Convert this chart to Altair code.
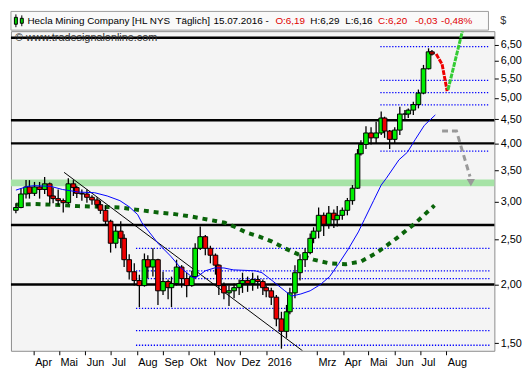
import altair as alt
import pandas as pd

W, H = 490, 324

# ---- price data (4-business-day candles) ----
opens = [2.88, 2.92, 3.12, 3.23, 3.13, 3.23, 3.19, 3.28, 3.09, 3.05,
         3.02, 2.99, 3.28, 3.22, 3.13, 3.12, 3.07, 3.03, 2.96, 2.88,
         2.73, 2.45, 2.60, 2.51, 2.26, 2.13, 2.04, 1.99, 2.26, 2.18,
         2.26, 1.94, 2.03, 1.97, 2.01, 2.18, 2.06, 1.99, 2.08, 2.39,
         2.53, 2.39, 2.31, 2.20, 1.99, 1.92, 1.94, 1.97, 2.01, 2.04,
         2.01, 2.05, 2.03, 1.97, 1.94, 1.88, 1.69, 1.59, 1.75, 1.92,
         2.12, 2.26, 2.34, 2.51, 2.60, 2.81, 2.69, 2.84, 2.75, 2.81,
         2.88, 3.02, 3.21, 3.80, 3.98, 4.21, 4.11, 4.21, 4.53, 4.25,
         4.08, 4.27, 4.62, 4.62, 4.71, 4.84, 5.12, 5.77, 6.27]
highs = [2.98, 3.21, 3.34, 3.34, 3.31, 3.31, 3.39, 3.30, 3.22, 3.19,
         3.05, 3.37, 3.34, 3.25, 3.19, 3.19, 3.10, 3.07, 3.02, 2.95,
         2.75, 2.68, 2.73, 2.56, 2.32, 2.22, 2.10, 2.33, 2.31, 2.39,
         2.27, 2.13, 2.05, 2.08, 2.26, 2.20, 2.12, 2.14, 2.45, 2.66,
         2.55, 2.42, 2.33, 2.21, 2.02, 1.99, 2.01, 2.05, 2.12, 2.08,
         2.12, 2.09, 2.05, 1.99, 1.97, 1.90, 1.75, 1.81, 1.97, 2.20,
         2.32, 2.39, 2.57, 2.65, 2.92, 2.85, 2.94, 2.89, 2.94, 2.92,
         3.06, 3.26, 3.89, 4.06, 4.35, 4.33, 4.45, 4.68, 4.56, 4.27,
         4.33, 4.79, 4.71, 4.75, 4.91, 5.21, 5.88, 6.38, 6.33]
lows = [2.84, 2.91, 3.05, 3.05, 3.09, 3.05, 3.12, 2.98, 2.98, 2.95,
        2.85, 2.97, 3.09, 3.06, 3.02, 2.99, 2.96, 2.91, 2.83, 2.68,
        2.34, 2.39, 2.39, 2.18, 2.05, 1.99, 1.79, 1.98, 2.06, 2.08,
        1.81, 1.90, 1.86, 1.79, 1.99, 1.97, 1.88, 1.98, 2.06, 2.37,
        2.31, 2.22, 2.10, 1.90, 1.86, 1.80, 1.87, 1.90, 1.92, 1.93,
        1.94, 1.96, 1.90, 1.88, 1.81, 1.63, 1.46, 1.54, 1.73, 1.87,
        2.04, 2.18, 2.32, 2.45, 2.51, 2.54, 2.63, 2.64, 2.66, 2.75,
        2.81, 2.96, 3.20, 3.77, 3.89, 3.98, 4.00, 4.17, 4.11, 3.89,
        4.00, 4.17, 4.49, 4.53, 4.60, 4.75, 5.09, 5.75, 6.16]
closes = [2.92, 3.12, 3.23, 3.13, 3.23, 3.19, 3.28, 3.09, 3.05, 3.02,
          2.99, 3.28, 3.22, 3.13, 3.12, 3.07, 3.03, 2.96, 2.88, 2.73,
          2.45, 2.60, 2.51, 2.26, 2.13, 2.04, 1.99, 2.26, 2.18, 2.26,
          1.94, 2.03, 1.97, 2.01, 2.18, 2.06, 1.99, 2.08, 2.39, 2.53,
          2.39, 2.31, 2.20, 1.99, 1.92, 1.94, 1.97, 2.01, 2.04, 2.01,
          2.05, 2.03, 1.97, 1.94, 1.88, 1.69, 1.59, 1.75, 1.92, 2.12,
          2.26, 2.34, 2.51, 2.60, 2.81, 2.69, 2.84, 2.75, 2.81, 2.88,
          3.02, 3.21, 3.80, 3.98, 4.21, 4.11, 4.21, 4.53, 4.25, 4.08,
          4.27, 4.62, 4.62, 4.71, 4.84, 5.12, 5.77, 6.27, 6.20]
candle_dates = pd.date_range(end="2016-07-15", periods=len(closes), freq="4B")

# ---- indicators ----
ma_blue_dates = ["2015-03-11", "2015-03-25", "2015-04-02", "2015-04-21", "2015-05-05",
                 "2015-05-24", "2015-06-12", "2015-06-27", "2015-07-12", "2015-07-23",
                 "2015-08-02", "2015-08-07", "2015-08-26", "2015-09-10", "2015-09-21",
                 "2015-10-06", "2015-10-10", "2015-10-21", "2015-11-01", "2015-11-12",
                 "2015-11-23", "2015-12-19", "2015-12-27", "2016-01-08", "2016-01-23",
                 "2016-01-31", "2016-02-11", "2016-02-22", "2016-03-05", "2016-03-16",
                 "2016-03-27", "2016-04-07", "2016-04-19", "2016-04-26", "2016-05-07",
                 "2016-05-16", "2016-05-22", "2016-06-06", "2016-06-16", "2016-06-25",
                 "2016-07-06", "2016-07-19"]
ma_blue_vals = [3.18, 3.24, 3.25, 3.24, 3.19, 3.15, 3.14, 3.09, 3.02, 2.93,
                2.82, 2.71, 2.45, 2.30, 2.18, 2.07, 2.07, 2.14, 2.17, 2.17,
                2.15, 2.14, 2.12, 2.04, 1.94, 1.89, 1.91, 1.94, 2.00, 2.08,
                2.22, 2.38, 2.59, 2.75, 3.02, 3.26, 3.37, 3.69, 3.83, 4.07,
                4.37, 4.60]
ma_green_dates = ["2015-03-11", "2015-04-02", "2015-04-24", "2015-05-24", "2015-06-19",
                  "2015-07-12", "2015-07-31", "2015-08-26", "2015-09-13", "2015-10-06",
                  "2015-10-25", "2015-11-13", "2015-11-28", "2015-12-09", "2015-12-24",
                  "2016-01-08", "2016-01-23", "2016-02-08", "2016-02-26", "2016-03-16",
                  "2016-04-04", "2016-04-22", "2016-05-11", "2016-06-03", "2016-06-25",
                  "2016-07-18"]
ma_green_vals = [2.96, 2.97, 2.96, 2.94, 2.93, 2.92, 2.89, 2.85, 2.83, 2.79,
                 2.75, 2.71, 2.64, 2.58, 2.53, 2.47, 2.39, 2.32, 2.26, 2.22,
                 2.21, 2.24, 2.34, 2.51, 2.70, 2.95]

black_levels = [6.72, 4.48, 4.00, 2.68, 2.00]
band_low = [3.24]
band_high = [3.35]
dotted_a_start = "2015-07-31"
dotted_a_levels = [2.39, 2.14, 2.06, 1.78, 1.595, 1.485]
dotted_b_start = "2016-05-15"
dotted_b_levels = [6.43, 5.45, 5.13, 4.83, 3.85]
dotted_end = "2016-09-21"

trend_dates = ["2015-05-07", "2016-02-13"]
trend_vals = [3.47, 1.445]

red_dates = ["2016-07-20", "2016-07-27", "2016-08-02"]
red_vals = [6.20, 5.90, 5.17]
green_dates = ["2016-08-03", "2016-08-20"]
green_vals = [5.20, 6.94]
gray_dates = ["2016-07-27", "2016-08-13", "2016-08-21", "2016-08-29"]
gray_vals = [4.25, 4.25, 3.80, 3.40]
arrow_date = ["2016-08-30"]
arrow_val = [3.30]

y_ticks = [1.5, 2.0, 2.5, 3.0, 3.5, 4.0, 4.5, 5.0, 5.5, 6.0, 6.5]
month_ticks = [(2015, m) for m in range(4, 13)] + [(2016, 1)] + [(2016, m) for m in range(3, 9)]

FONT = "Liberation Sans"

xscale = alt.Scale(domain=[alt.DateTime(year=2015, month=3, date=11),
                           alt.DateTime(year=2016, month=9, date=21)])
yscale = alt.Scale(type="log", domain=[1.445, 6.94], nice=False, zero=False)

xaxis = alt.Axis(values=[alt.DateTime(year=y, month=m, date=1) for y, m in month_ticks],
                 labelExpr="month(datum.value)==0 ? '' + year(datum.value) : "
                           "['Jan','Feb','Mrz','Apr','Mai','Jun','Jul','Aug','Sep','Okt','Nov','Dez'][month(datum.value)]",
                 labelAlign="left", labelOffset=1, labelPadding=2, tickSize=4,
                 tickColor="black", domain=False, grid=False, title=None,
                 labelFont=FONT, labelFontSize=11, labelColor="black",
                 labelOverlap=False, labelBound=False, labelFlush=False)
yaxis = alt.Axis(orient="right", values=y_ticks,
                 labelExpr="replace(format(datum.value, '.2f'), '.', ',')",
                 tickSize=4, tickColor="black", domain=False, grid=False, title=None,
                 labelFont=FONT, labelFontSize=11, labelColor="black", labelPadding=2)


def X(field, axis=True):
    return alt.X(field, type="temporal", scale=xscale, axis=xaxis if axis else None)


def Y(field, axis=True):
    return alt.Y(field, type="quantitative", scale=yscale, axis=yaxis if axis else None)


candles = pd.DataFrame({"date": candle_dates, "open": opens, "high": highs,
                        "low": lows, "close": closes})
candles["dir"] = ["up" if c >= o else "down" for o, c in zip(opens, closes)]

one = alt.Data(values=[{"k": 1}])

band = alt.Chart(pd.DataFrame({"lo": band_low, "hi": band_high})).mark_rect(
    color="#a6e3a6").encode(x=alt.value(0), x2=alt.value(W), y=Y("lo"), y2="hi")

dotted_df = pd.DataFrame({
    "start": [dotted_a_start] * len(dotted_a_levels) + [dotted_b_start] * len(dotted_b_levels),
    "end": [dotted_end] * (len(dotted_a_levels) + len(dotted_b_levels)),
    "level": dotted_a_levels + dotted_b_levels})
dotted = alt.Chart(dotted_df).mark_rule(color="#0000ff", strokeWidth=1.3,
                                        strokeDash=[1.3, 1.7]).encode(
    x=X("start"), x2="end", y=Y("level"))

levels = alt.Chart(pd.DataFrame({"level": black_levels})).mark_rule(
    color="black", strokeWidth=2.5).encode(y=Y("level"))

green_ma = alt.Chart(pd.DataFrame({"date": ma_green_dates, "v": ma_green_vals})).mark_line(
    color="#0a640a", strokeWidth=4, strokeDash=[5, 5]).encode(x=X("date"), y=Y("v"))

trend = alt.Chart(pd.DataFrame({"date": trend_dates, "v": trend_vals})).mark_line(
    color="black", strokeWidth=1, clip=True).encode(x=X("date"), y=Y("v"))

wicks = alt.Chart(candles).mark_rule(color="black", strokeWidth=1.3).encode(
    x=X("date"), y=Y("low"), y2="high")
bodies = alt.Chart(candles).mark_bar(size=4.7, stroke="black", strokeWidth=1).encode(
    x=X("date"), y=Y("open"), y2="close",
    color=alt.Color("dir:N", scale=alt.Scale(domain=["up", "down"],
                                             range=["#00ee00", "#ee0000"]), legend=None))

blue_ma = alt.Chart(pd.DataFrame({"date": ma_blue_dates, "v": ma_blue_vals})).mark_line(
    color="#0000ff", strokeWidth=1).encode(x=X("date"), y=Y("v"))

red_proj = alt.Chart(pd.DataFrame({"date": red_dates, "v": red_vals})).mark_line(
    color="#ee0000", strokeWidth=3, strokeDash=[5, 1]).encode(x=X("date"), y=Y("v"))
green_proj = alt.Chart(pd.DataFrame({"date": green_dates, "v": green_vals})).mark_line(
    color="#33cc33", strokeWidth=3, strokeDash=[5, 1], clip=True).encode(x=X("date"), y=Y("v"))
gray_path = alt.Chart(pd.DataFrame({"date": gray_dates, "v": gray_vals})).mark_line(
    color="#999999", strokeWidth=3, strokeDash=[6, 4]).encode(x=X("date"), y=Y("v"))
gray_head = alt.Chart(pd.DataFrame({"date": arrow_date, "v": arrow_val})).mark_point(
    shape="triangle-down", filled=True, color="#999999", size=70, opacity=1).encode(
    x=X("date"), y=Y("v"))

watermark = alt.Chart(one).mark_text(align="left", baseline="middle", font=FONT,
                                     fontSize=11, color="#303030").encode(
    x=alt.value(4), y=alt.value(7), text=alt.value("\u00a9 www.tradesignalonline.com"))

title_box = alt.Chart(one).mark_rect(fill="#f9f9f9", stroke="#9a9a9a", strokeWidth=1).encode(
    x=alt.value(0), x2=alt.value(W - 6), y=alt.value(-20), y2=alt.value(-1))

icon_wicks = alt.Chart(one).mark_rule(color="black", strokeWidth=1).encode(
    x=alt.value(5), y=alt.value(-17), y2=alt.value(-4))
icon_wicks2 = alt.Chart(one).mark_rule(color="black", strokeWidth=1).encode(
    x=alt.value(11), y=alt.value(-16), y2=alt.value(-5))
icon_body = alt.Chart(one).mark_rect(fill="#00d000", stroke="black", strokeWidth=1).encode(
    x=alt.value(3.5), x2=alt.value(6.5), y=alt.value(-14), y2=alt.value(-7))
icon_body2 = alt.Chart(one).mark_rect(fill="#00d000", stroke="black", strokeWidth=1).encode(
    x=alt.value(9.5), x2=alt.value(12.5), y=alt.value(-13), y2=alt.value(-8))

s = W / 499.0
title_parts = [
    ("Hecla Mining Company [HL NYS\u00a0 T\u00e4glich]", 17, "black"),
    ("15.07.2016 -", 209, "black"),
    ("O:6,19", 273, "#e00000"),
    ("H:6,29", 309, "black"),
    ("L:6,16", 345, "black"),
    ("C:6,20", 379, "#e00000"),
    ("-0,03", 417, "#e00000"),
    ("-0,48%", 444, "#e00000"),
]
title_layers = [
    alt.Chart(one).mark_text(align="left", baseline="middle", font=FONT, fontSize=10,
                             color=col).encode(
        x=alt.value(px * s), y=alt.value(-10), text=alt.value(txt))
    for txt, px, col in title_parts
]
dollar = alt.Chart(one).mark_text(align="left", baseline="middle", font=FONT, fontSize=11,
                                  color="#333333").encode(
    x=alt.value(W + 6), y=alt.value(-10), text=alt.value("$"))

chart = alt.layer(
    band, dotted, levels, green_ma, trend, wicks, bodies, blue_ma,
    red_proj, green_proj, gray_path, gray_head, watermark,
    title_box, icon_wicks, icon_wicks2, icon_body, icon_body2, *title_layers, dollar
).properties(width=W, height=H, background="white", padding=0).configure_view(
    stroke="#8c8c8c", strokeWidth=1, fill="#f4f4f4"
).configure_axis(labelFont=FONT)

chart.save("out.html", embed_options={"renderer": "svg", "actions": False})
